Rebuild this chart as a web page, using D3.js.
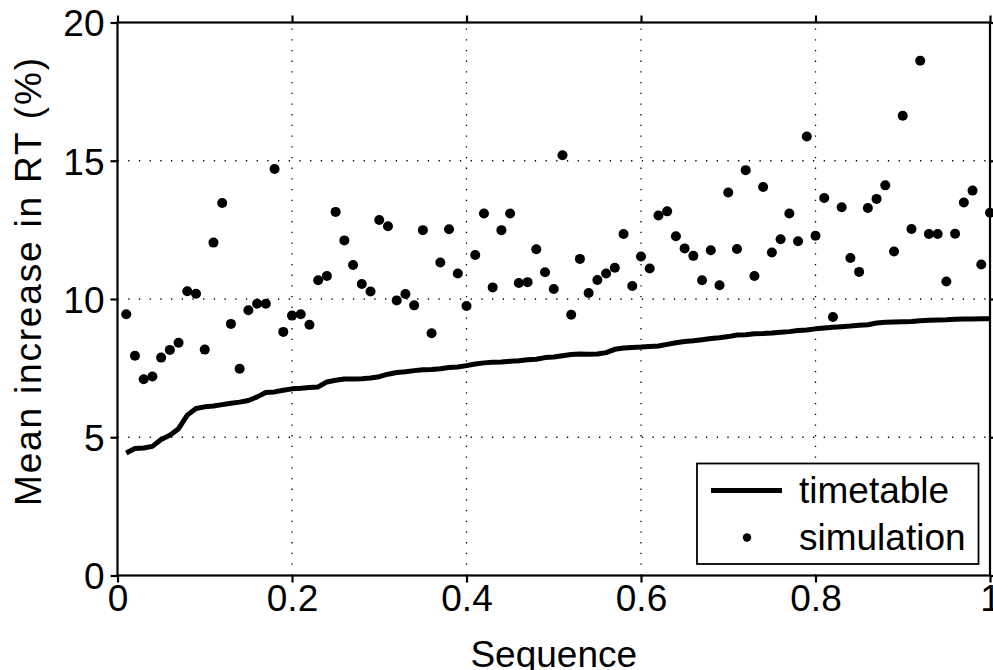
<!DOCTYPE html>
<html>
<head>
<meta charset="utf-8">
<script src="https://cdn.jsdelivr.net/npm/d3@7"></script>
<style>
  html, body { margin: 0; padding: 0; background: #fff; }
  svg { display: block; }
  text { font-family: "Liberation Sans", Arial, Helvetica, sans-serif; fill: #000; }
</style>
</head>
<body>
<svg id="chart" width="993" height="670"></svg>
<script>
// ---- data ----
const sequence = d3.range(1, 101).map(i => i / 100);
const timetable = [
  4.43, 4.59, 4.61, 4.67, 4.92, 5.07, 5.31, 5.80, 6.04, 6.10,
  6.13, 6.18, 6.23, 6.27, 6.33, 6.46, 6.62, 6.64, 6.70, 6.75,
  6.77, 6.80, 6.82, 7.00, 7.06, 7.11, 7.11, 7.12, 7.14, 7.19,
  7.28, 7.34, 7.37, 7.41, 7.44, 7.45, 7.48, 7.52, 7.54, 7.59,
  7.65, 7.69, 7.71, 7.72, 7.75, 7.77, 7.80, 7.82, 7.88, 7.90,
  7.95, 7.99, 8.01, 8.00, 8.01, 8.06, 8.18, 8.23, 8.25, 8.26,
  8.28, 8.30, 8.36, 8.42, 8.46, 8.49, 8.53, 8.57, 8.60, 8.64,
  8.70, 8.71, 8.74, 8.75, 8.77, 8.80, 8.82, 8.86, 8.88, 8.92,
  8.95, 8.98, 9.00, 9.02, 9.05, 9.07, 9.13, 9.16, 9.17, 9.18,
  9.19, 9.21, 9.23, 9.24, 9.25, 9.27, 9.28, 9.28, 9.29, 9.29
];
const simulation = [
  9.45, 7.95, 7.10, 7.20, 7.88, 8.16, 8.42, 10.28, 10.19, 8.17,
  12.04, 13.47, 9.10, 7.48, 9.59, 9.83, 9.83, 14.70, 8.81, 9.40,
  9.45, 9.07, 10.68, 10.83, 13.15, 12.12, 11.23, 10.54, 10.27, 12.86,
  12.63, 9.95, 10.18, 9.77, 12.49, 8.76, 11.32, 12.52, 10.92, 9.75,
  11.59, 13.09, 10.42, 12.49, 13.09, 10.58, 10.61, 11.80, 10.97, 10.36,
  15.20, 9.43, 11.45, 10.22, 10.69, 10.92, 11.13, 12.35, 10.47, 11.54,
  11.10, 13.02, 13.17, 12.27, 11.83, 11.56, 10.68, 11.76, 10.50, 13.85,
  11.81, 14.66, 10.83, 14.05, 11.68, 12.16, 13.09, 12.09, 15.88, 12.29,
  13.65, 9.35, 13.32, 11.48, 10.98, 13.29, 13.62, 14.11, 11.72, 16.63,
  12.53, 18.62, 12.35, 12.35, 10.63, 12.36, 13.49, 13.92, 11.25, 13.12
];
const xTicks = [0, 0.2, 0.4, 0.6, 0.8, 1];
const xTickLabels = ["0", "0.2", "0.4", "0.6", "0.8", "1"];
const yTicks = [0, 5, 10, 15, 20];
const yTickLabels = ["0", "5", "10", "15", "20"];
const seriesNames = ["timetable", "simulation"];
const xTitle = "Sequence";
const yTitle = "Mean increase in RT (%)";

// ---- layout ----
const L = 117.5, R = 990, T = 22.5, B = 575.5;
const fs = 37;
const svg = d3.select("#chart");
const x = d3.scaleLinear().domain([0, 1]).range([L, R]);
const y = d3.scaleLinear().domain([0, 20]).range([B, T]);

// grid
const grid = svg.append("g").attr("stroke", "#000").attr("stroke-width", 1.3)
  .attr("stroke-dasharray", "1.3,9.4");
grid.selectAll("line.gx").data(xTicks.filter(v => v > 0 && v < 1)).join("line")
  .attr("x1", d => x(d)).attr("x2", d => x(d)).attr("y1", B).attr("y2", T);
grid.selectAll("line.gy").data(yTicks.filter(v => v > 0 && v < 20)).join("line")
  .attr("y1", d => y(d)).attr("y2", d => y(d)).attr("x1", L).attr("x2", R);

// axes (all four sides, outward ticks)
const tickLen = 7;
const axB = svg.append("g").attr("transform", `translate(0,${B})`)
  .call(d3.axisBottom(x).tickValues(xTicks).tickFormat((d, i) => xTickLabels[i]).tickSize(tickLen));
const axT = svg.append("g").attr("transform", `translate(0,${T})`)
  .call(d3.axisTop(x).tickValues(xTicks).tickFormat("").tickSize(tickLen));
const axL = svg.append("g").attr("transform", `translate(${L},0)`)
  .call(d3.axisLeft(y).tickValues(yTicks).tickFormat((d, i) => yTickLabels[i]).tickSize(tickLen));
const axR = svg.append("g").attr("transform", `translate(${R},0)`)
  .call(d3.axisRight(y).tickValues(yTicks).tickFormat("").tickSize(tickLen));
[axB, axT, axL, axR].forEach(a => {
  a.select(".domain").remove();
  a.selectAll(".tick line").attr("stroke", "#000").attr("stroke-width", 2.2);
  a.selectAll("text").attr("font-size", fs).attr("font-family", "Liberation Sans, Arial, sans-serif").attr("fill", "#000");
});
axB.selectAll("text").attr("y", 35).attr("dy", 0);
axL.selectAll("text").attr("x", -13).attr("dy", "0.36em");

// frame
svg.append("rect").attr("x", L).attr("y", T).attr("width", R - L).attr("height", B - T)
  .attr("fill", "none").attr("stroke", "#000").attr("stroke-width", 2.2);

// line
const lineData = sequence.map((s, i) => [s, timetable[i]]);
svg.append("path").datum(lineData)
  .attr("fill", "none").attr("stroke", "#000").attr("stroke-width", 5)
  .attr("stroke-linejoin", "round")
  .attr("d", d3.line().x(d => x(d[0])).y(d => y(d[1])));

// dots
svg.append("g").selectAll("circle").data(sequence.map((s, i) => [s, simulation[i]])).join("circle")
  .attr("cx", d => x(d[0])).attr("cy", d => y(d[1])).attr("r", 5).attr("fill", "#000");

// titles
svg.append("text").attr("x", (L + R) / 2).attr("y", 667).attr("text-anchor", "middle")
  .attr("font-size", fs).text(xTitle);
svg.append("text").attr("transform", `translate(41,282) rotate(-90)`)
  .attr("x", -224).attr("font-size", fs)
  .attr("textLength", 448).attr("lengthAdjust", "spacing").text(yTitle);

// legend
const lg = svg.append("g");
lg.append("rect").attr("x", 697).attr("y", 463.5).attr("width", 281.5).attr("height", 100.5)
  .attr("fill", "#fff").attr("stroke", "#000").attr("stroke-width", 1.8);
lg.append("line").attr("x1", 711).attr("x2", 782).attr("y1", 490.5).attr("y2", 490.5)
  .attr("stroke", "#000").attr("stroke-width", 5);
lg.append("circle").attr("cx", 747).attr("cy", 537.5).attr("r", 4.2).attr("fill", "#000");
lg.append("text").attr("x", 799).attr("y", 503).attr("font-size", fs).text(seriesNames[0]);
lg.append("text").attr("x", 799).attr("y", 550).attr("font-size", fs).text(seriesNames[1]);
</script>
</body>
</html>
